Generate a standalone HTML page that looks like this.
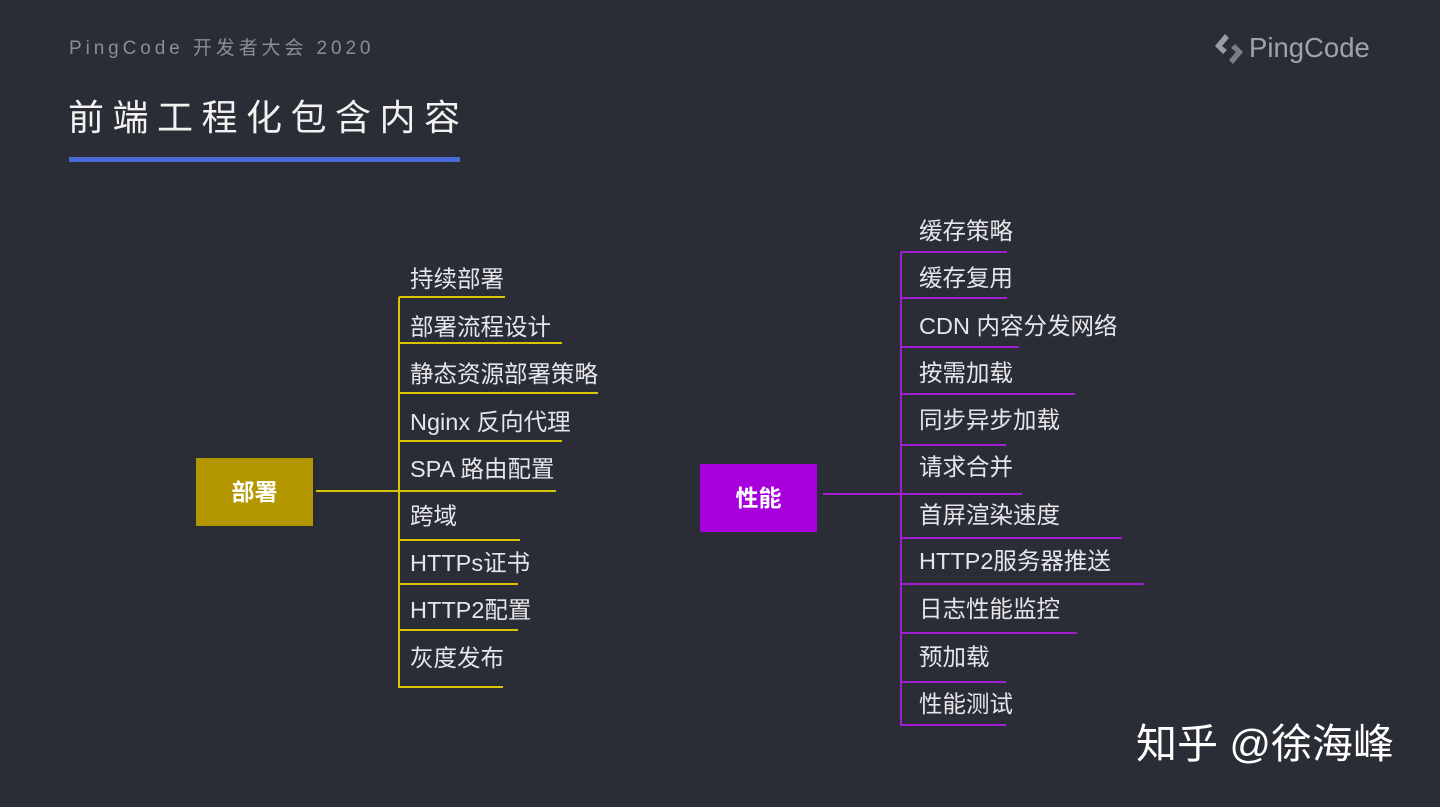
<!DOCTYPE html>
<html><head><meta charset="utf-8"><style>
body{margin:0;width:1440px;height:807px;background:#2a2d36;overflow:hidden;position:relative;font-family:"Liberation Sans","Noto Sans CJK SC",sans-serif;}
.t{position:absolute;color:#e6e6ea;font-size:23.5px;white-space:nowrap;line-height:1;}
.l{position:absolute;height:2px;}
.y{background:#d8c400}.p{background:#a01fd0}
</style></head><body>
<div class="t" style="left:69px;top:39px;font-size:19px;letter-spacing:3.9px;color:#8a8d96">PingCode 开发者大会 2020</div>
<div class="t" style="left:68px;top:100px;font-size:36px;letter-spacing:8.5px;color:#f2f2f2">前端工程化包含内容</div>
<div style="position:absolute;left:69px;top:157px;width:391px;height:5px;background:#4a6ad6"></div>
<svg style="position:absolute;left:1213px;top:32px" width="32" height="34" viewBox="0 0 32 34"><path d="M12 2 L2 14 L10 22 L14 18 L9 14 L16 6Z" fill="#9a9ca4"/><path d="M20 32 L30 20 L22 12 L18 16 L23 20 L16 28Z" fill="#7c7e86"/></svg>
<div class="t" style="left:1249px;top:34px;font-size:27.5px;color:#a0a2aa">PingCode</div>

<div style="position:absolute;left:196px;top:458px;width:117px;height:68px;background:#b49700;color:#fff;font-weight:bold;font-size:23px;text-align:center;line-height:68px">部署</div>
<div class="l y" style="left:316px;top:490px;width:83px"></div>
<div class="y" style="position:absolute;left:398px;top:297px;width:2px;height:391px"></div>
<div class="l y" style="left:399px;top:296px;width:106px"></div>
<div class="l y" style="left:399px;top:342px;width:163px"></div>
<div class="l y" style="left:399px;top:392px;width:199px"></div>
<div class="l y" style="left:399px;top:440px;width:163px"></div>
<div class="l y" style="left:399px;top:490px;width:157px"></div>
<div class="l y" style="left:399px;top:539px;width:121px"></div>
<div class="l y" style="left:399px;top:583px;width:119px"></div>
<div class="l y" style="left:399px;top:629px;width:119px"></div>
<div class="l y" style="left:399px;top:686px;width:104px"></div>
<div class="t" style="left:410px;top:268px">持续部署</div>
<div class="t" style="left:410px;top:316px">部署流程设计</div>
<div class="t" style="left:410px;top:363px">静态资源部署策略</div>
<div class="t" style="left:410px;top:411px">Nginx 反向代理</div>
<div class="t" style="left:410px;top:458px">SPA 路由配置</div>
<div class="t" style="left:410px;top:505px">跨域</div>
<div class="t" style="left:410px;top:552px">HTTPs证书</div>
<div class="t" style="left:410px;top:599px">HTTP2配置</div>
<div class="t" style="left:410px;top:647px">灰度发布</div>

<div style="position:absolute;left:700px;top:464px;width:117px;height:68px;background:#a800dc;color:#fff;font-weight:bold;font-size:23px;text-align:center;line-height:68px">性能</div>
<div class="l p" style="left:823px;top:493px;width:78px"></div>
<div class="p" style="position:absolute;left:900px;top:252px;width:2px;height:474px"></div>
<div class="l p" style="left:901px;top:251px;width:106px"></div>
<div class="l p" style="left:901px;top:297px;width:106px"></div>
<div class="l p" style="left:901px;top:346px;width:118px"></div>
<div class="l p" style="left:901px;top:393px;width:174px"></div>
<div class="l p" style="left:901px;top:444px;width:105px"></div>
<div class="l p" style="left:901px;top:493px;width:121px"></div>
<div class="l p" style="left:901px;top:537px;width:221px"></div>
<div class="l p" style="left:901px;top:583px;width:243px"></div>
<div class="l p" style="left:901px;top:632px;width:176px"></div>
<div class="l p" style="left:901px;top:681px;width:105px"></div>
<div class="l p" style="left:901px;top:724px;width:105px"></div>
<div class="t" style="left:919px;top:220px">缓存策略</div>
<div class="t" style="left:919px;top:267px">缓存复用</div>
<div class="t" style="left:919px;top:315px">CDN 内容分发网络</div>
<div class="t" style="left:919px;top:362px">按需加载</div>
<div class="t" style="left:919px;top:409px">同步异步加载</div>
<div class="t" style="left:919px;top:456px">请求合并</div>
<div class="t" style="left:919px;top:504px">首屏渲染速度</div>
<div class="t" style="left:919px;top:550px">HTTP2服务器推送</div>
<div class="t" style="left:919px;top:598px">日志性能监控</div>
<div class="t" style="left:919px;top:646px">预加载</div>
<div class="t" style="left:919px;top:693px">性能测试</div>

<div class="t" style="left:1136px;top:724px;font-size:41px;color:#fff">知乎 @徐海峰</div>
</body></html>
